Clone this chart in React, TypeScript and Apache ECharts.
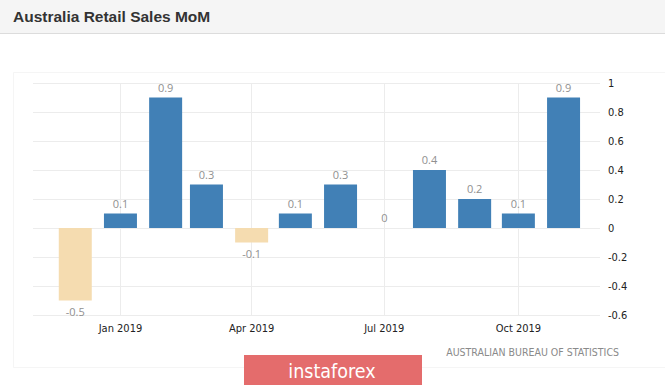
import React, { useEffect, useRef } from "react";
import * as echarts from "echarts";

const months = [
  "2018-12-01", "2019-01-01", "2019-02-01", "2019-03-01", "2019-04-01", "2019-05-01",
  "2019-06-01", "2019-07-01", "2019-08-01", "2019-09-01", "2019-10-01", "2019-11-01",
];
const values = [-0.5, 0.1, 0.9, 0.3, -0.1, 0.1, 0.3, 0, 0.4, 0.2, 0.1, 0.9];
const tickDates = ["2019-01-01", "2019-04-01", "2019-07-01", "2019-10-01"];
const tickLabels = ["Jan 2019", "Apr 2019", "Jul 2019", "Oct 2019"];
const axisRange = ["2018-11-02", "2019-11-26"];

const ts = (s: string) => {
  const [y, m, d] = s.split("-").map(Number);
  return Date.UTC(y, m - 1, d);
};

export default function App() {
  const ref = useRef<HTMLDivElement>(null);
  useEffect(() => {
    document.body.style.margin = "0";
    const chart = echarts.init(ref.current!, null, { renderer: "svg" });
    const tickTs = tickDates.map(ts);
    const labelFor = (v: number) => {
      const i = tickTs.findIndex((t) => Math.abs(t - v) < 43200000);
      return i >= 0 ? tickLabels[i] : "";
    };
    chart.setOption({
      animation: false,
      backgroundColor: "#ffffff",
      graphic: [
        { type: "rect", shape: { x: 0, y: 0, width: 665, height: 33 }, style: { fill: "#f5f5f5" }, z: -10 },
        { type: "line", shape: { x1: 0, y1: 33.5, x2: 665, y2: 33.5 }, style: { stroke: "#dcdcdc", lineWidth: 1 } },
        {
          type: "text", x: 13, y: 16,
          style: { text: "Australia Retail Sales MoM", fill: "#333", font: "bold 15.5px 'Liberation Sans', Arial, sans-serif", textVerticalAlign: "middle" },
        },
        { type: "rect", shape: { x: 13.5, y: 72.5, width: 670, height: 295 }, style: { fill: "none", stroke: "#f5f5f5", lineWidth: 1 }, z: -5 },
        {
          type: "text", x: 619, y: 352,
          style: { text: "AUSTRALIAN BUREAU OF STATISTICS", fill: "#8a8a8a", font: "10.5px 'DejaVu Sans Condensed', 'DejaVu Sans', sans-serif", textAlign: "right", textVerticalAlign: "middle" },
        },
        { type: "rect", shape: { x: 244, y: 355, width: 178, height: 30 }, style: { fill: "#e46c6c" }, z: 10 },
        {
          type: "text", x: 332, y: 371, z: 11,
          style: { text: "instaforex", fill: "#ffffff", font: "19.5px 'DejaVu Sans Condensed', 'DejaVu Sans', sans-serif", textAlign: "center", textVerticalAlign: "middle" },
        },
      ],
      grid: { left: 33, right: 65, top: 83, bottom: 71, containLabel: false },
      xAxis: {
        type: "value",
        min: ts(axisRange[0]),
        max: ts(axisRange[1]),
        axisLine: { show: false },
        axisTick: { show: false, customValues: tickTs },
        splitLine: { show: true, lineStyle: { color: "#ececec", width: 1 } },
        axisLabel: {
          customValues: tickTs,
          formatter: (v: number) => labelFor(v),
          color: "#222",
          fontSize: 11,
          fontFamily: "'DejaVu Sans Condensed', 'DejaVu Sans', sans-serif",
          margin: 8,
          hideOverlap: false,
        },
      },
      yAxis: {
        type: "value",
        position: "right",
        min: -0.6,
        max: 1,
        interval: 0.2,
        axisLine: { show: false },
        axisTick: { show: false },
        splitLine: { show: true, lineStyle: { color: "#ececec", width: 1 } },
        axisLabel: {
          color: "#222",
          fontSize: 11,
          fontFamily: "'DejaVu Sans Condensed', 'DejaVu Sans', sans-serif",
          margin: 8,
          formatter: (v: number) => String(Math.round(v * 10) / 10),
        },
      },
      series: [
        {
          type: "bar",
          barWidth: 33,
          data: months.map((m, i) => ({
            value: [ts(m), values[i]],
            itemStyle: { color: values[i] < 0 ? "#f5dcb0" : "#4180b6" },
            label: {
              show: true,
              position: values[i] < 0 ? "bottom" : "top",
              distance: 5,
              formatter: String(values[i]),
              color: "#909090",
              fontSize: 11,
              fontFamily: "'Open Sans', sans-serif",
            },
          })),
        },
      ],
    });
    return () => chart.dispose();
  }, []);
  return <div ref={ref} style={{ width: 665, height: 386, position: "absolute", left: 0, top: 0 }} />;
}
